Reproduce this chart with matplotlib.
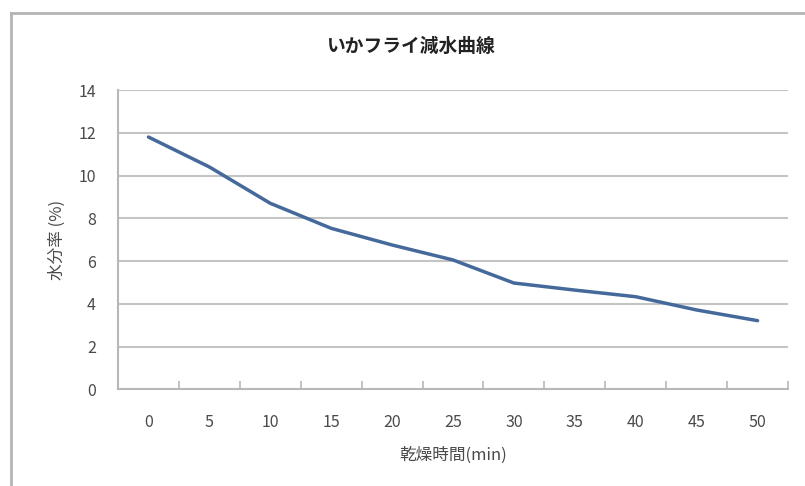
import matplotlib
matplotlib.use("Agg")
import matplotlib.pyplot as plt
from matplotlib.lines import Line2D
from matplotlib.ticker import FixedLocator

# drying time (min) and moisture content (%)
times = [0, 5, 10, 15, 20, 25, 30, 35, 40, 45, 50]
moisture = [11.8, 10.4, 8.7, 7.53, 6.75, 6.05, 4.97, 4.64, 4.33, 3.71, 3.21]

title = "いかフライ減水曲線"
xlabel = "乾燥時間(min)"
ylabel = "水分率 (%)"

plt.rcParams["font.family"] = ["Noto Sans CJK JP", "DejaVu Sans"]

text_color = "#4a4a4a"
grid_color = "#c4c4c4"
line_color = "#44699a"

fig = plt.figure(figsize=(8.05, 4.86), dpi=100)
ax = fig.add_axes([0.1466, 0.199, 0.9789 - 0.1466, 0.8148 - 0.199])

pos = list(range(len(times)))
ax.plot(pos, moisture, color=line_color, linewidth=2.5, solid_capstyle="round")

ax.set_xlim(-0.5, len(times) - 0.5)
ax.set_ylim(0, 14)
ax.set_yticks(range(0, 15, 2))
ax.set_xticks(pos)
ax.set_xticklabels([str(t) for t in times])
ax.xaxis.set_minor_locator(FixedLocator([p + 0.5 for p in pos]))

ax.grid(axis="y", color=grid_color, linewidth=1.5)
ax.set_axisbelow(True)
for side in ("top", "right"):
    ax.spines[side].set_visible(False)
for side in ("left", "bottom"):
    ax.spines[side].set_color("#b8b8b8")
    ax.spines[side].set_linewidth(1.5)

ax.tick_params(axis="x", which="major", length=0, pad=18, labelsize=11.5, labelcolor=text_color)
ax.tick_params(axis="x", which="minor", direction="in", length=6, width=1.2, color="#b8b8b8")
ax.tick_params(axis="y", length=0, pad=16, labelsize=11.5, labelcolor=text_color)

ax.set_xlabel(xlabel, fontsize=12, color=text_color, labelpad=11)
ax.set_ylabel(ylabel, fontsize=12, color=text_color, labelpad=9)
fig.text(0.51, 0.905, title, ha="center", va="center", fontsize=13.5,
         fontweight="bold", color="#222222")

# outer chart frame (top and left edges)
fig.add_artist(Line2D([11 / 805, 1.0], [1 - 13 / 486, 1 - 13 / 486],
                      transform=fig.transFigure, color="#b4b4b4", linewidth=2))
fig.add_artist(Line2D([11 / 805, 11 / 805], [0.0, 1 - 13 / 486],
                      transform=fig.transFigure, color="#b4b4b4", linewidth=2))

fig.savefig("out.png", dpi=100)
